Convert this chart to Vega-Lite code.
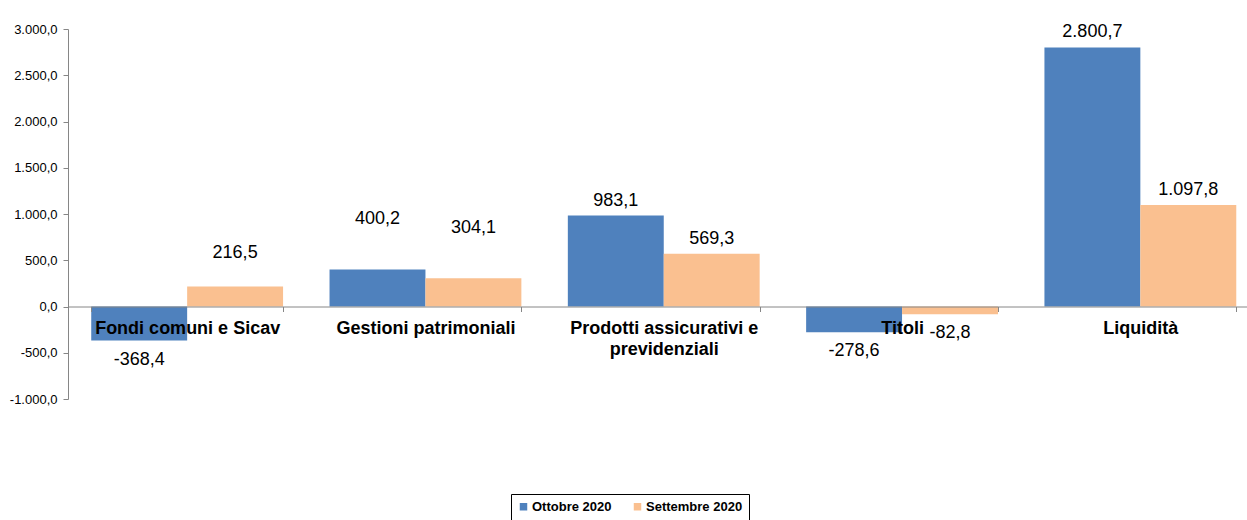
{
  "$schema": "https://vega.github.io/schema/vega-lite/v6.json",
  "width": 1179,
  "height": 370,
  "autosize": {"type": "none"},
  "padding": {"left": 68, "top": 29, "right": 0, "bottom": 121},
  "background": "white",
  "config": {
    "font": "Liberation Sans",
    "view": {"stroke": null},
    "locale": {"number": {"decimal": ",", "thousands": ".", "grouping": [3], "currency": ["", " €"], "minus": "-"}},
    "axis": {"grid": false}
  },
  "data": {
    "values": [
      {"categoria": "Fondi comuni e Sicav", "serie": "Ottobre 2020", "valore": -368.4},
      {"categoria": "Fondi comuni e Sicav", "serie": "Settembre 2020", "valore": 216.5},
      {"categoria": "Gestioni patrimoniali", "serie": "Ottobre 2020", "valore": 400.2},
      {"categoria": "Gestioni patrimoniali", "serie": "Settembre 2020", "valore": 304.1},
      {"categoria": "Prodotti assicurativi e previdenziali", "serie": "Ottobre 2020", "valore": 983.1},
      {"categoria": "Prodotti assicurativi e previdenziali", "serie": "Settembre 2020", "valore": 569.3},
      {"categoria": "Titoli", "serie": "Ottobre 2020", "valore": -278.6},
      {"categoria": "Titoli", "serie": "Settembre 2020", "valore": -82.8},
      {"categoria": "Liquidità", "serie": "Ottobre 2020", "valore": 2800.7},
      {"categoria": "Liquidità", "serie": "Settembre 2020", "valore": 1097.8}
    ]
  },
  "encoding": {
    "x": {
      "field": "categoria",
      "type": "nominal",
      "sort": null,
      "scale": {"range": [0, 1191.5], "paddingInner": 0.195, "paddingOuter": 0.0975},
      "axis": {
        "title": null,
        "orient": "bottom",
        "offset": -92.5,
        "domainColor": "#868686",
        "tickColor": "#868686",
        "tickSize": 5,
        "tickBand": "extent",
        "labelFontSize": 18,
        "labelFontWeight": "bold",
        "labelColor": "black",
        "labelPadding": 8,
        "labelLimit": 400,
        "labelAngle": 0,
        "labelBaseline": "top",
        "labelLineHeight": 21,
        "labelOverlap": false,
        "labelExpr": "datum.value == 'Prodotti assicurativi e previdenziali' ? ['Prodotti assicurativi e', 'previdenziali'] : datum.label",
        "zindex": 1
      }
    },
    "xOffset": {"field": "serie", "sort": ["Ottobre 2020", "Settembre 2020"]},
    "y": {
      "field": "valore",
      "type": "quantitative",
      "scale": {"domain": [-1000, 3000], "nice": false},
      "axis": {
        "title": null,
        "values": [-1000, -500, 0, 500, 1000, 1500, 2000, 2500, 3000],
        "format": ",.1f",
        "domainColor": "#868686",
        "tickColor": "#868686",
        "tickSize": 5,
        "labelFontSize": 13,
        "labelColor": "black",
        "labelPadding": 6
      }
    }
  },
  "layer": [
    {
      "mark": {"type": "bar"},
      "encoding": {
        "color": {
          "field": "serie",
          "type": "nominal",
          "scale": {"domain": ["Ottobre 2020", "Settembre 2020"], "range": ["#4F81BD", "#FAC090"]},
          "legend": {
            "title": null,
            "orient": "none",
            "legendX": 443,
            "legendY": 465,
            "direction": "horizontal",
            "symbolType": "square",
            "symbolSize": 56,
            "symbolStrokeWidth": 0,
            "labelFontSize": 13,
            "labelFontWeight": "bold",
            "labelColor": "black",
            "strokeColor": "black",
            "padding": 6,
            "columnPadding": 19,
            "labelOffset": 2
          }
        }
      }
    },
    {
      "transform": [{"filter": "datum.valore < 0"}],
      "mark": {"type": "text", "fontSize": 18, "color": "black", "baseline": "alphabetic", "dy": 24},
      "encoding": {"text": {"field": "valore", "type": "quantitative", "format": ",.1f"}}
    },
    {
      "transform": [{"filter": "datum.valore >= 0 && datum.categoria != 'Gestioni patrimoniali' && datum.categoria != 'Fondi comuni e Sicav'"}],
      "mark": {"type": "text", "fontSize": 18, "color": "black", "baseline": "alphabetic", "dy": -10},
      "encoding": {"text": {"field": "valore", "type": "quantitative", "format": ",.1f"}}
    },
    {
      "transform": [{"filter": "datum.valore >= 0 && datum.categoria == 'Gestioni patrimoniali'"}],
      "mark": {"type": "text", "fontSize": 18, "color": "black", "baseline": "alphabetic", "dy": -45},
      "encoding": {"text": {"field": "valore", "type": "quantitative", "format": ",.1f"}}
    },
    {
      "transform": [{"filter": "datum.valore >= 0 && datum.categoria == 'Fondi comuni e Sicav'"}],
      "mark": {"type": "text", "fontSize": 18, "color": "black", "baseline": "alphabetic", "dy": -28},
      "encoding": {"text": {"field": "valore", "type": "quantitative", "format": ",.1f"}}
    }
  ]
}
